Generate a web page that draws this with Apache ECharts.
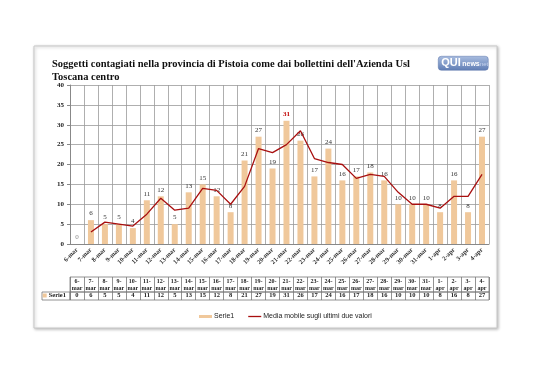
<!DOCTYPE html>
<html><head><meta charset="utf-8">
<script src="https://cdn.jsdelivr.net/npm/echarts@6/dist/echarts.min.js"></script>
<style>html,body{margin:0;padding:0;background:#fff}#c{width:538px;height:380px}</style>
</head><body><div id="c"></div>
<script>
const categories = ['6-mar','7-mar','8-mar','9-mar','10-mar','11-mar','12-mar','13-mar','14-mar','15-mar','16-mar','17-mar','18-mar','19-mar','20-mar','21-mar','22-mar','23-mar','24-mar','25-mar','26-mar','27-mar','28-mar','29-mar','30-mar','31-mar','1-apr','2-apr','3-apr','4-apr'];
const serie1 = [0,6,5,5,4,11,12,5,13,15,12,8,21,27,19,31,26,17,24,16,17,18,16,10,10,10,8,16,8,27];
const mediaMobile = [null,3,5.5,5,4.5,7.5,11.5,8.5,9,14,13.5,10,14.5,24,23,25,28.5,21.5,20.5,20,16.5,17.5,17,13,10,10,9,12,12,17.5];
const yTicks = [0,5,10,15,20,25,30,35,40];
const titleText = "Soggetti contagiati nella provincia di Pistoia come dai bollettini dell'Azienda Usl\nToscana centro";
const serieName = 'Serie1';
const lineName = 'Media mobile sugli ultimi due valori';

const serif = 'Liberation Serif';
const sans = 'Liberation Sans';
const maxVal = Math.max(...serie1);

const chart = echarts.init(document.getElementById('c'), null, {renderer:'canvas'});
const barData = serie1.map((v,i)=>{
  const item = {value:v};
  if (v === maxVal) item.label = {color:'#c00000', fontWeight:'bold'};
  if (v === 0) item.label = {color:'#888'};
  return item;
});
const headerCats = categories.map(c=>c.replace('-','-\n'));

chart.setOption({
  backgroundColor:'#fff',
  animation:false,
  graphic:[
    {type:'rect', z:-10, shape:{x:34,y:46,width:463,height:282}, style:{fill:'#fff', stroke:'#c8c8c8', lineWidth:1, shadowBlur:3, shadowColor:'rgba(0,0,0,0.25)', shadowOffsetX:1, shadowOffsetY:1}},
    {type:'group', left:438, top:56, children:[
      {type:'rect', shape:{x:0,y:0,width:50,height:14,r:3}, style:{fill:new echarts.graphic.LinearGradient(0,0,0,1,[{offset:0,color:'#a9bde0'},{offset:1,color:'#5f7db4'}]), stroke:'#5a74a8', lineWidth:0.5}},
      {type:'text', x:3, y:1.5, style:{text:'QUI', fill:'#fff', font:'bold 11px Liberation Sans'}},
      {type:'text', x:24, y:4.5, style:{text:'news', fill:'#fff', font:'bold 7px Liberation Sans'}},
      {type:'text', x:40, y:5.5, style:{text:'.net', fill:'#c9d6ef', font:'6px Liberation Sans'}}
    ]}
  ],
  title:{text:titleText, left:47, top:53, textStyle:{fontFamily:serif, fontWeight:'bold', fontSize:10.5, color:'#111', lineHeight:13}},
  legend:{bottom:55, left:194, itemGap:14, itemWidth:13, itemHeight:3,
    textStyle:{fontFamily:sans, fontSize:7, color:'#222', padding:[0,0,0,-3]},
    data:[{name:serieName, icon:'rect'},{name:lineName, icon:'path://M0,0L10,0L10,1L0,1Z'}]},
  grid:[
    {left:70, right:49, top:85, height:159},
    {left:70, right:49, top:277, height:15, show:true, borderColor:'#777', borderWidth:0.8},
    {left:70, right:49, top:292, height:8, show:true, borderColor:'#777', borderWidth:0.8}
  ],
  xAxis:[
    {type:'category', gridIndex:0, data:categories,
     axisLine:{lineStyle:{color:'#888'}}, axisTick:{show:false},
     splitLine:{show:true, interval:0, lineStyle:{color:'#9a9a9a', width:0.8}},
     axisLabel:{interval:0, rotate:45, fontSize:6.5, fontFamily:serif, fontWeight:'bold', color:'#333', margin:5}},
    {type:'category', gridIndex:1, data:headerCats, position:'top',
     axisLine:{show:false}, axisTick:{show:false},
     splitLine:{show:true, interval:0, lineStyle:{color:'#777', width:0.8}},
     axisLabel:{inside:true, interval:0, fontSize:6, lineHeight:7, fontFamily:serif, fontWeight:'bold', color:'#222', margin:1, verticalAlign:'top'}},
    {type:'category', gridIndex:2, data:serie1.map(String), position:'bottom',
     axisLine:{show:false}, axisTick:{show:false},
     splitLine:{show:true, interval:0, lineStyle:{color:'#777', width:0.8}},
     axisLabel:{inside:true, interval:0, fontSize:6.5, fontFamily:serif, fontWeight:'bold', color:'#222', margin:1}}
  ],
  yAxis:[
    {type:'value', gridIndex:0, min:0, max:40, interval:5,
     axisLine:{show:true, lineStyle:{color:'#888'}}, axisTick:{show:true, length:3, lineStyle:{color:'#888'}},
     splitLine:{show:true, lineStyle:{color:'#9a9a9a', width:0.8}},
     axisLabel:{fontSize:7, fontFamily:serif, fontWeight:'bold', color:'#222', margin:6,
       formatter:v=>yTicks.includes(v)?String(v):''}},
    {type:'value', gridIndex:1, show:false},
    {type:'category', gridIndex:2, data:[serieName], axisLine:{show:false}, axisTick:{show:false},
     axisLabel:{margin:0, formatter:'{s|}{t|{value}}', width:28, height:8, align:'right', verticalAlign:'middle',
       borderColor:'#777', borderWidth:0.8, padding:[0,0,0,0],
       rich:{s:{width:4, height:4, backgroundColor:'#f0c89b'}, t:{fontSize:6.5, fontFamily:serif, fontWeight:'bold', color:'#222', padding:[0,4,0,2]}}}}
  ],
  series:[
    {name:serieName, type:'bar', xAxisIndex:0, yAxisIndex:0, data:barData, barWidth:6,
     itemStyle:{color:'#f0c89b'},
     label:{show:true, position:'top', distance:3, fontSize:7, fontFamily:serif, color:'#333'}},
    {name:lineName, type:'line', xAxisIndex:0, yAxisIndex:0, data:mediaMobile, symbol:'none',
     lineStyle:{color:'#a80f0f', width:1.3}, itemStyle:{color:'#a80f0f'}, z:3}
  ]
});
</script></body></html>
